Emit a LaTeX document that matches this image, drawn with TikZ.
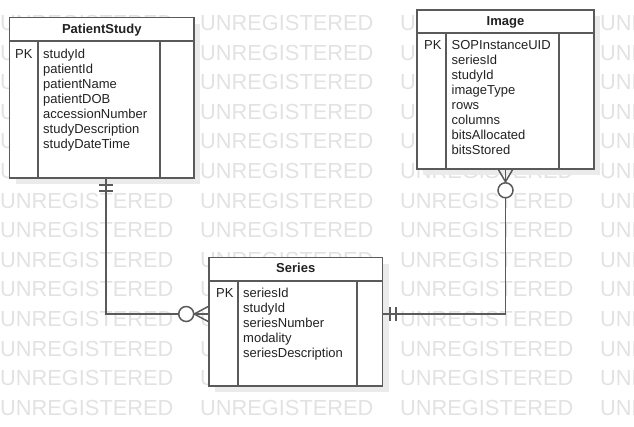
\documentclass[tikz,border=0pt]{standalone}
\usepackage{fontspec}
\setmainfont{Liberation Sans}
\usepackage{xcolor}
\usepackage{tikz}
\usetikzlibrary{positioning,calc,shadows}

\definecolor{linegray}{HTML}{5A5A5A}
\definecolor{wmgray}{HTML}{E2E2E2}
\definecolor{shadowgray}{HTML}{EBEBEB}
\definecolor{txtgray}{HTML}{222222}

\begin{document}
\begin{tikzpicture}[x=1pt,y=-1pt,
    entity/.style={rectangle,draw=linegray,line width=1.6pt,fill=white,inner sep=0pt,
        general shadow={fill=shadowgray,shadow xshift=6pt,shadow yshift=-6pt}},
    tblline/.style={draw=linegray,line width=1.6pt},
    conn/.style={draw=linegray,line width=1.5pt},
    attr/.style={anchor=base west,inner sep=0pt,text=txtgray,font=\fontsize{13}{15}\selectfont},
    title/.style={anchor=base,inner sep=0pt,text=txtgray,font=\fontsize{13}{15}\selectfont\bfseries},
    wm/.style={anchor=base west,inner sep=0pt,text=wmgray,font=\fontsize{21.8}{26}\selectfont}]

    \useasboundingbox (0,0) rectangle (634,426);

    % 背景水印
    \begin{scope}
        \clip (0,0) rectangle (634,426);
        \foreach \r in {0,...,13}{
            \foreach \c in {0,...,3}{
                \node[wm] (wm\r-\c) at (200*\c,30.5+29.6*\r) {UNREGISTERED};}}
    \end{scope}

    % 三个实体
    \node[entity,minimum width=184.5pt,minimum height=160.5pt] (ps) at (101.75,97.75) {};
    \node[entity,minimum width=177pt,minimum height=159pt] (img) at (505.5,89.5) {};
    \node[entity,minimum width=173.5pt,minimum height=128.5pt] (se) at (295.75,321.75) {};

    \foreach \e/\h/\a/\b in {ps/41/38/160,img/33/446/559,se/281/238/357}{
        \draw[tblline] (\e.west |- 0,\h) -- (\e.east |- 0,\h)
            (\a,\h) -- (\e.south -| \a,0) (\b,\h) -- (\e.south -| \b,0);}

    \node[title] (psT) at (101.75,33.5) {PatientStudy};
    \node[title] (imgT) at (505.5,25.5) {Image};
    \node[title] (seT) at (295.75,272.5) {Series};

    \node[attr] (psPK) at (15,58) {PK};
    \foreach \i/\name in {1/studyId,2/patientId,3/patientName,4/patientDOB,
        5/accessionNumber,6/studyDescription,7/studyDateTime}{
        \node[attr] (ps\i) at (43,43+15*\i) {\name};}

    \node[attr] (imgPK) at (424,49.5) {PK};
    \foreach \i/\name in {1/SOPInstanceUID,2/seriesId,3/studyId,4/imageType,
        5/rows,6/columns,7/bitsAllocated,8/bitsStored}{
        \node[attr] (img\i) at (451.5,34.5+15*\i) {\name};}

    \node[attr] (sePK) at (216,297.5) {PK};
    \foreach \i/\name in {1/seriesId,2/studyId,3/seriesNumber,4/modality,5/seriesDescription}{
        \node[attr] (se\i) at (243,282.5+15*\i) {\name};}

    % 连线
    \coordinate (bendL) at (106,314);
    \coordinate (bendR) at (505.5,314);
    \draw[conn] (ps.south -| bendL) -- (bendL) -- (se.west |- bendL);
    \draw[conn] (se.east |- bendR) -- (bendR) -- (img.south -| bendR);

    % 一对一的两道短线
    \draw[conn] ($(ps.south -| bendL)+(-7,6)$) -- ++(14,0)
        ($(ps.south -| bendL)+(-7,12)$) -- ++(14,0);
    \draw[conn] ($(se.east |- bendR)+(6.5,-7)$) -- ++(0,14)
        ($(se.east |- bendR)+(12.5,-7)$) -- ++(0,14);

    % 零或多：鸡爪加圆圈
    \coordinate (ftL) at ($(se.west |- bendL)+(-14,0)$);
    \draw[conn] ($(se.west |- bendL)+(0,-7.5)$) -- (ftL) -- ($(se.west |- bendL)+(0,7.5)$);
    \draw[conn,fill=white] ($(ftL)+(-8,0)$) circle[radius=7.5pt];

    \coordinate (ftR) at ($(img.south -| bendR)+(0,12)$);
    \draw[conn] ($(img.south -| bendR)+(-7,0)$) -- (ftR) -- ($(img.south -| bendR)+(7,0)$);
    \draw[conn,fill=white] ($(ftR)+(0,8.5)$) circle[radius=7.5pt];
\end{tikzpicture}
\end{document}
